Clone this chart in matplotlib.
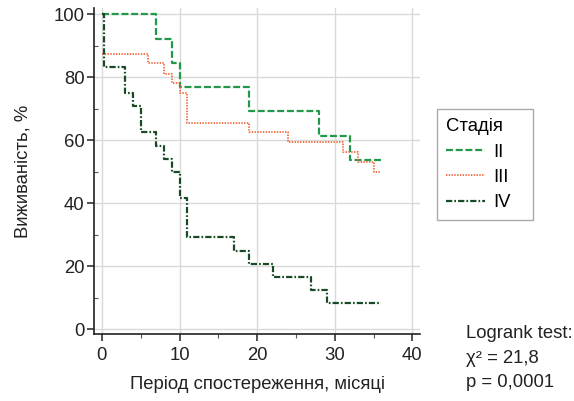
import matplotlib
matplotlib.use("Agg")
from matplotlib import pyplot as plt
from matplotlib.ticker import MultipleLocator

plt.rcParams["font.family"] = ["Liberation Sans", "DejaVu Sans"]
plt.rcParams["lines.scale_dashes"] = False

# Kaplan-Meier curves, survival in %
months_ii = [0, 7, 9, 10, 19, 28, 32, 36]
surv_ii = [100, 92.3, 84.6, 76.9, 69.2, 61.5, 53.8, 53.8]

months_iii = [0, 6, 8, 9, 10, 11, 19, 24, 31, 33, 35, 36]
surv_iii = [87.5, 84.4, 81.2, 78.1, 75.0, 65.6, 62.5, 59.4, 56.2, 53.1, 50.0, 50.0]

months_iv = [0, 0.3, 3, 4, 5, 7, 8, 9, 10, 11, 17, 19, 22, 27, 29, 36]
surv_iv = [100, 83.3, 75.0, 70.8, 62.5, 58.3, 54.2, 50.0, 41.7, 29.2, 25.0,
           20.8, 16.7, 12.5, 8.3, 8.3]

stages = ["II", "III", "IV"]
x_ticks = [0, 10, 20, 30, 40]
y_ticks = [0, 20, 40, 60, 80, 100]

FS = 13.3

fig = plt.figure(figsize=(5.74, 4.01), dpi=100)
ax = fig.add_axes([0.164, 0.167, 0.568, 0.813])

ax.plot(months_ii, surv_ii, drawstyle="steps-post", color="#22994a",
        lw=1.6, linestyle=(0, (5, 2)), label=stages[0])
ax.plot(months_iii, surv_iii, drawstyle="steps-post", color="#f05a28",
        lw=1.2, linestyle=(0, (1, 1)), label=stages[1])
ax.plot(months_iv, surv_iv, drawstyle="steps-post", color="#174a25",
        lw=1.6, linestyle=(0, (4.5, 1.5, 1.2, 1.5)), label=stages[2])

ax.set_xlim(-1, 41)
ax.set_ylim(-1.5, 102)
ax.set_xticks(x_ticks)
ax.set_yticks(y_ticks)
ax.xaxis.set_minor_locator(MultipleLocator(5))
ax.yaxis.set_minor_locator(MultipleLocator(10))
ax.grid(True, which="major", color="#d9d9d9", lw=1)
ax.set_axisbelow(True)

for s in ["top", "right"]:
    ax.spines[s].set_visible(False)
for s in ["left", "bottom"]:
    ax.spines[s].set_linewidth(1.2)
    ax.spines[s].set_color("#222222")

ax.tick_params(which="major", direction="out", length=5, width=1.1,
               labelsize=FS, colors="#222222", pad=2)
ax.tick_params(axis="x", which="major", pad=4)
ax.tick_params(which="minor", direction="in", length=3, width=0.8,
               colors="#555555")
ax.tick_params(axis="x", which="minor", direction="out", length=3)

ax.set_xlabel("Період спостереження, місяці", fontsize=FS, labelpad=9,
              color="#222222")
ax.set_ylabel("Виживаність, %", fontsize=FS, labelpad=16, color="#222222")

leg = ax.legend(title="Стадія    ", loc="upper left",
                bbox_to_anchor=(0.761, 0.728), bbox_transform=fig.transFigure,
                borderaxespad=0, fancybox=False, framealpha=1,
                edgecolor="#aaaaaa", fontsize=FS, title_fontsize=FS,
                handlelength=2.1, handletextpad=0.45, labelspacing=0.45,
                borderpad=0.5)
leg._legend_box.align = "left"
leg.get_frame().set_linewidth(1)

fig.text(0.812, 0.107, "Logrank test:\nχ² = 21,8\np = 0,0001",
         fontsize=FS, va="center", ha="left", linespacing=1.55,
         color="#222222")

fig.savefig("out.png", dpi=100)
